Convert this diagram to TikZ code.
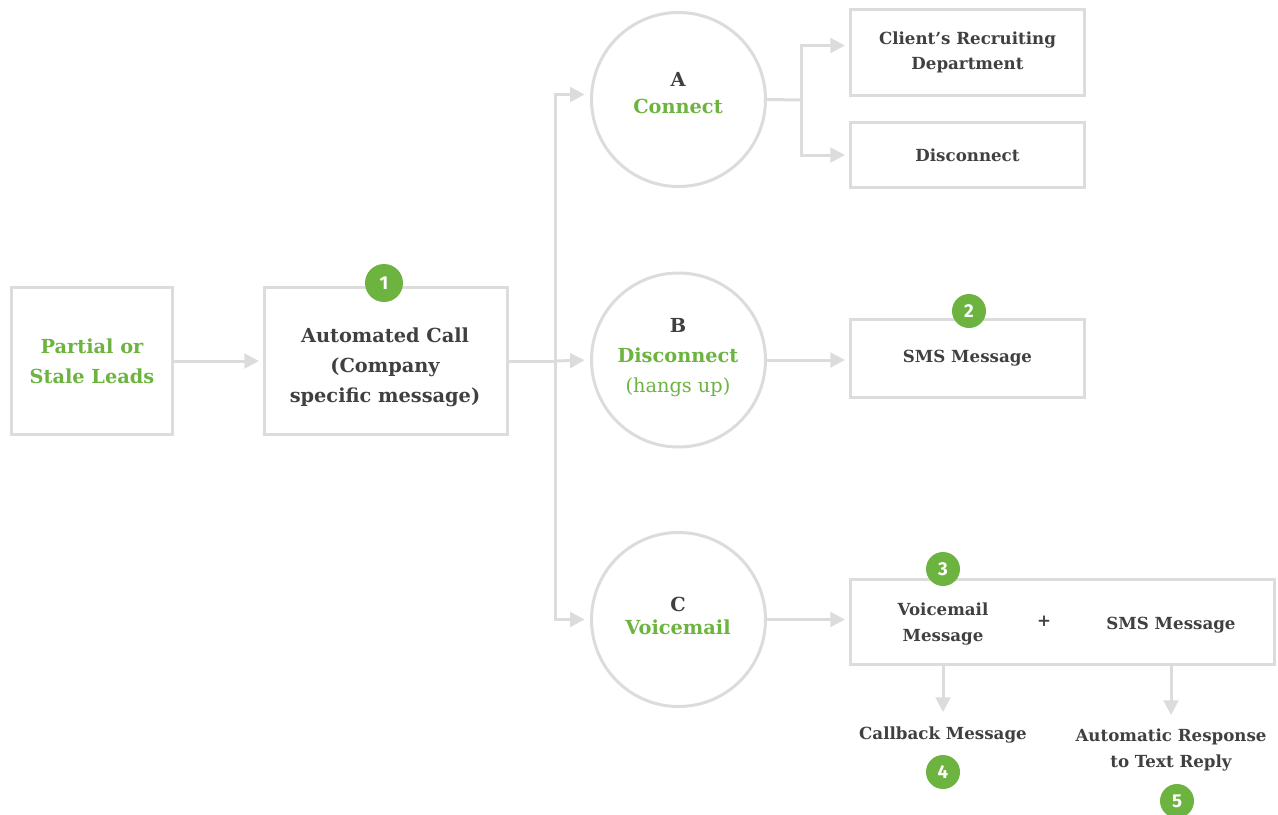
\documentclass[tikz,border=0pt]{standalone}
\usepackage{fontspec}
\setmainfont{DejaVu Serif}
\newfontfamily\badgefont{Fira Sans}
\usetikzlibrary{arrows.meta}
\definecolor{lg}{HTML}{DCDCDC}
\definecolor{gr}{HTML}{6CB33F}
\definecolor{dk}{HTML}{404040}
\tikzset{
  x=0.75pt, y=-0.75pt,
  bigf/.style={font=\bfseries\fontsize{14.5}{22.5}\selectfont},
  smallf/.style={font=\bfseries\fontsize{12.5}{19}\selectfont},
  box/.style={draw=lg, line width=2.25pt, inner sep=0pt, align=center, text=dk, smallf},
  circ/.style={draw=lg, line width=2.25pt, circle, minimum size=130.5pt, inner sep=0pt},
  conn/.style={draw=lg, line width=2.25pt},
  arr/.style={conn, -{Triangle[length=11pt,width=11pt]}},
  badge/.style={circle, fill=gr, text=white, minimum size=25.5pt, inner sep=0pt, font=\badgefont\bfseries\fontsize{14}{16}\selectfont},
  lbl/.style={align=center, text=dk, inner sep=0pt, smallf},
}
\begin{document}
\begin{tikzpicture}
\useasboundingbox (0,0) rectangle (1278,814);
% boxes
\node[box, bigf, text=gr, minimum width=120.75pt, minimum height=110.25pt] (leads) at (92,361) {Partial or\\Stale Leads};
\node[box, minimum width=182.25pt, minimum height=110.25pt] (call) at (386,361) {};
\node[lbl, bigf] (callt) at (385,367) {Automated Call\\(Company\\specific message)};
\node[box, minimum width=175.5pt, minimum height=64.5pt] (client) at (967.5,52.5) {Client’s Recruiting\\Department};
\node[box, minimum width=175.5pt, minimum height=48.75pt] (disc) at (967.5,155) {Disconnect};
\node[box, minimum width=175.5pt, minimum height=58.5pt] (sms) at (967.5,358.5) {SMS Message};
\node[box, minimum width=318pt, minimum height=63.75pt] (vm) at (1062.5,622) {};
% circles
\node[circ] (A) at (678.5,99.5) {};
\node[circ] (B) at (678.5,360) {};
\node[circ] (C) at (678.5,619.5) {};
\node[lbl, bigf] (At) at (678,93) {A\\[-2pt]\textcolor{gr}{Connect}};
\node[lbl, bigf] (Bt) at (678,358) {B\\\textcolor{gr}{Disconnect}\\\textcolor{gr}{\mdseries (hangs up)}};
\node[lbl, bigf] (Ct) at (678,616) {C\\[-5pt]\textcolor{gr}{Voicemail}};
% labels in voicemail box
\node[lbl] (vmt) at (943,624) {Voicemail\\Message};
\node[lbl] (plus) at (1044,621) {+};
\node[lbl] (smt) at (1171,625) {SMS Message};
\node[lbl] (cb) at (943,735) {Callback Message};
\node[lbl] (ar) at (1171,750) {Automatic Response\\to Text Reply};
% connectors
\draw[arr, shorten >=3pt] (leads) -- (call);
\coordinate (j) at (555,361);
\draw[conn] (call.east) -- (j);
\draw[arr, shorten >=4pt, line join=miter] (j) |- ([yshift=3.75pt]A.west);
\draw[arr, shorten >=4pt] (j) -- (B.west);
\draw[arr, shorten >=4pt, line join=miter] (j) |- (C.west);
\coordinate (ja) at (801,100);
\draw[conn] (A.east) -- (ja);
\draw[arr, shorten >=3pt, line join=miter] (ja) |- ([yshift=5.25pt]client.west);
\draw[arr, shorten >=3pt, line join=miter] (ja) |- (disc.west);
\draw[arr, shorten >=3pt] (B.east) -- (B.east -| sms.west);
\draw[arr, shorten >=3pt] (C.east) -- (C.east -| vm.west);
\coordinate (cbtip) at (943,712);
\coordinate (artip) at (1171,715);
\draw[arr] (vm.south -| vmt) -- (cbtip);
\draw[arr] (vm.south -| smt) -- (artip);
% badges
\node[badge, minimum size=28.5pt] (b1) at (384,283) {1};
\node[badge] (b2) at (969,311) {2};
\node[badge] (b3) at (943,569) {3};
\node[badge] (b4) at (943,772) {4};
\node[badge] (b5) at (1177,801) {5};
\end{tikzpicture}
\end{document}
